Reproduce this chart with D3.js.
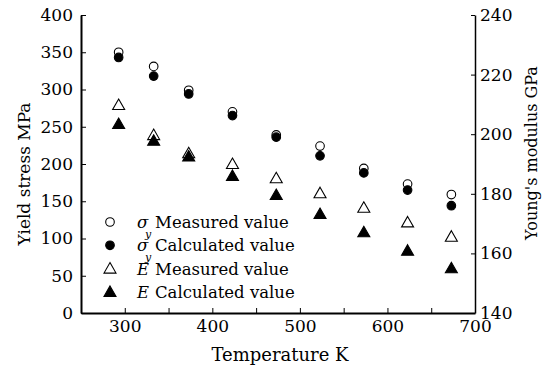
<!DOCTYPE html>
<html>
<head>
<meta charset="utf-8">
<script src="https://cdn.jsdelivr.net/npm/d3@7"></script>
<style>
  body { margin: 0; background: #fff; }
  .axis path, .axis line { stroke: #000; }
</style>
</head>
<body>
<div id="container"></div>
<script>
const temps = [293, 333, 373, 423, 473, 523, 573, 623, 673];
const sigmaMeasured = [350, 331, 299, 270, 239, 224, 194, 173, 159];
const sigmaCalculated = [343, 318, 294, 265, 236, 211, 188, 165, 144];
const eMeasured = [209.8, 199.7, 193.6, 190, 185.2, 180.2, 175.3, 170.4, 165.6];
const eCalculated = [203.4, 197.8, 192.5, 186, 179.6, 173.2, 167.1, 160.9, 155];

const xTicks = [300, 350, 400, 450, 500, 550, 600, 650, 700];
const yLeftTicks = [0, 50, 100, 150, 200, 250, 300, 350, 400];
const yRightTicks = [140, 160, 180, 200, 220, 240];

const legendItems = [
  { sym: "\u03c3", sub: "y", label: "Measured value", shape: "circle", fill: false },
  { sym: "\u03c3", sub: "y", label: "Calculated value", shape: "circle", fill: true },
  { sym: "E", sub: "", label: "Measured value", shape: "triangle", fill: false },
  { sym: "E", sub: "", label: "Calculated value", shape: "triangle", fill: true }
];

const width = 545;
const height = 371;
const plot = { left: 81, right: 475, top: 15, bot: 313 };
const serif = "DejaVu Serif";

const svg = d3.select("#container")
              .append("svg")
              .attr("width", width)
              .attr("height", height)
              .attr("font-family", serif);

const xScale = d3.scaleLinear().domain([250, 700]).range([plot.left, plot.right]);
const yLeft = d3.scaleLinear().domain([0, 400]).range([plot.bot, plot.top]);
const yRight = d3.scaleLinear().domain([140, 240]).range([plot.bot, plot.top]);

function serifAxis(g, w) {
  g.attr("font-family", serif).attr("font-size", 17);
  g.selectAll("text").attr("fill", "#000");
  g.select(".domain").attr("stroke-width", w);
}

// axes, ticks pointing inward
const xAxis = d3.axisBottom(xScale)
                .tickValues(xTicks)
                .tickSizeInner(-5)
                .tickSizeOuter(0)
                .tickPadding(7)
                .tickFormat((d) => d % 100 === 0 ? d : "");
svg.append("g")
   .attr("class", "axis")
   .attr("transform", "translate(0," + plot.bot + ")")
   .call(xAxis)
   .call((g) => serifAxis(g, 2));

const leftAxis = d3.axisLeft(yLeft)
                   .tickValues(yLeftTicks)
                   .tickSizeInner(-5)
                   .tickSizeOuter(0)
                   .tickPadding(8);
svg.append("g")
   .attr("class", "axis")
   .attr("transform", "translate(" + plot.left + ",0)")
   .call(leftAxis)
   .call((g) => serifAxis(g, 2));

const rightAxis = d3.axisRight(yRight)
                    .tickValues(yRightTicks)
                    .tickSizeInner(-4)
                    .tickSizeOuter(0)
                    .tickPadding(5);
svg.append("g")
   .attr("class", "axis")
   .attr("transform", "translate(" + plot.right + ",0)")
   .call(rightAxis)
   .call((g) => serifAxis(g, 1.5));

// axis titles
svg.append("text")
   .attr("x", 280)
   .attr("y", 361)
   .attr("text-anchor", "middle")
   .attr("font-size", 18)
   .text("Temperature K");

svg.append("text")
   .attr("transform", "translate(30,174)rotate(-90)")
   .attr("text-anchor", "middle")
   .attr("font-size", 17)
   .text("Yield stress MPa");

svg.append("text")
   .attr("transform", "translate(537,153)rotate(-90)")
   .attr("text-anchor", "middle")
   .attr("font-size", 16)
   .text("Young's modulus GPa");

// markers
const tri = "M0,-6L6,4.5L-6,4.5Z";

function drawCircles(values, filled) {
  svg.append("g")
     .selectAll("circle")
     .data(values)
     .enter()
     .append("circle")
     .attr("cx", (d, i) => xScale(temps[i]))
     .attr("cy", (d) => yLeft(d))
     .attr("r", 4.3)
     .attr("fill", filled ? "#000" : "none")
     .attr("stroke", "#000")
     .attr("stroke-width", 1.1);
}

function drawTriangles(values, filled) {
  svg.append("g")
     .selectAll("path")
     .data(values)
     .enter()
     .append("path")
     .attr("d", tri)
     .attr("transform", (d, i) => "translate(" + xScale(temps[i]) + "," + yRight(d) + ")")
     .attr("fill", filled ? "#000" : "none")
     .attr("stroke", "#000")
     .attr("stroke-width", 1.1);
}

drawCircles(sigmaMeasured, false);
drawCircles(sigmaCalculated, true);
drawTriangles(eMeasured, false);
drawTriangles(eCalculated, true);

// legend
const legend = svg.append("g");
legendItems.forEach((item, i) => {
  const cy = 222 + i * 23.3;
  if (item.shape === "circle") {
    legend.append("circle")
          .attr("cx", 110).attr("cy", cy).attr("r", 4.3)
          .attr("fill", item.fill ? "#000" : "none")
          .attr("stroke", "#000").attr("stroke-width", 1.1);
  } else {
    legend.append("path")
          .attr("d", tri)
          .attr("transform", "translate(110," + cy + ")")
          .attr("fill", item.fill ? "#000" : "none")
          .attr("stroke", "#000").attr("stroke-width", 1.1);
  }
  legend.append("text")
        .attr("x", 137).attr("y", cy + 6)
        .attr("font-size", 16.5)
        .attr("font-style", "italic")
        .text(item.sym);
  if (item.sub) {
    legend.append("text")
          .attr("x", 145).attr("y", cy + 16)
          .attr("font-size", 11)
          .attr("font-style", "italic")
          .text(item.sub);
  }
  legend.append("text")
        .attr("x", 155).attr("y", cy + 6)
        .attr("font-size", 16.5)
        .text(item.label);
});
</script>
</body>
</html>
